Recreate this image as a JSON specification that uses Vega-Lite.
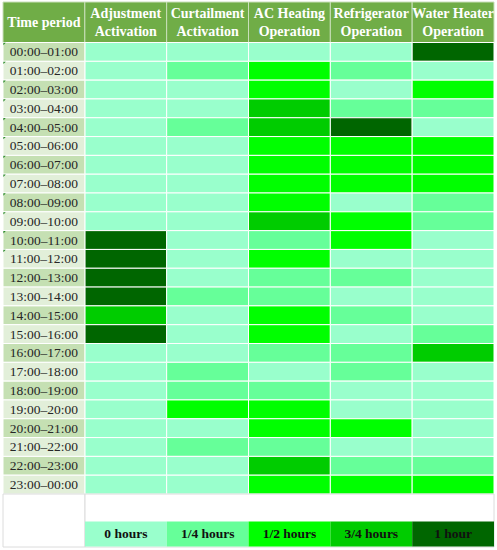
{
"$schema": "https://vega.github.io/schema/vega-lite/v6.json",
"width": 497, "height": 550, "autosize": {"type": "none"}, "padding": 0, "background": "white",
"config": {"view": {"stroke": null}, "axis": {"disable": true}, "text": {"font": "Liberation Serif"}},
"datasets": {
"cols": [
{"col": "Time period", "label": "Time period"},
{"col": "Adjustment Activation", "label": "Adjustment\nActivation"},
{"col": "Curtailment Activation", "label": "Curtailment\nActivation"},
{"col": "AC Heating Operation", "label": "AC Heating\nOperation"},
{"col": "Refrigerator Operation", "label": "Refrigerator\nOperation"},
{"col": "Water Heater Operation", "label": "Water Heater\nOperation"}
],
"times": [
{"time": "00:00–01:00"},{"time": "01:00–02:00"},{"time": "02:00–03:00"},{"time": "03:00–04:00"},{"time": "04:00–05:00"},{"time": "05:00–06:00"},{"time": "06:00–07:00"},{"time": "07:00–08:00"},{"time": "08:00–09:00"},{"time": "09:00–10:00"},{"time": "10:00–11:00"},{"time": "11:00–12:00"},{"time": "12:00–13:00"},{"time": "13:00–14:00"},{"time": "14:00–15:00"},{"time": "15:00–16:00"},{"time": "16:00–17:00"},{"time": "17:00–18:00"},{"time": "18:00–19:00"},{"time": "19:00–20:00"},{"time": "20:00–21:00"},{"time": "21:00–22:00"},{"time": "22:00–23:00"},{"time": "23:00–00:00"}
],
"flagged": [
{"time": "00:00–01:00"},{"time": "01:00–02:00"},{"time": "02:00–03:00"},{"time": "03:00–04:00"},{"time": "04:00–05:00"},{"time": "05:00–06:00"},{"time": "06:00–07:00"},{"time": "07:00–08:00"},{"time": "08:00–09:00"},{"time": "09:00–10:00"},{"time": "10:00–11:00"},{"time": "11:00–12:00"}
],
"legendItems": [
{"hours": "0 hours"},{"hours": "1/4 hours"},{"hours": "1/2 hours"},{"hours": "3/4 hours"},{"hours": "1 hour"}
],
"grid": [
{"time":"00:00–01:00","device":"Adjustment Activation","hours":"0 hours"},
{"time":"00:00–01:00","device":"Curtailment Activation","hours":"0 hours"},
{"time":"00:00–01:00","device":"AC Heating Operation","hours":"0 hours"},
{"time":"00:00–01:00","device":"Refrigerator Operation","hours":"0 hours"},
{"time":"00:00–01:00","device":"Water Heater Operation","hours":"1 hour"},
{"time":"01:00–02:00","device":"Adjustment Activation","hours":"0 hours"},
{"time":"01:00–02:00","device":"Curtailment Activation","hours":"1/4 hours"},
{"time":"01:00–02:00","device":"AC Heating Operation","hours":"1/2 hours"},
{"time":"01:00–02:00","device":"Refrigerator Operation","hours":"1/4 hours"},
{"time":"01:00–02:00","device":"Water Heater Operation","hours":"0 hours"},
{"time":"02:00–03:00","device":"Adjustment Activation","hours":"0 hours"},
{"time":"02:00–03:00","device":"Curtailment Activation","hours":"0 hours"},
{"time":"02:00–03:00","device":"AC Heating Operation","hours":"1/2 hours"},
{"time":"02:00–03:00","device":"Refrigerator Operation","hours":"0 hours"},
{"time":"02:00–03:00","device":"Water Heater Operation","hours":"1/2 hours"},
{"time":"03:00–04:00","device":"Adjustment Activation","hours":"0 hours"},
{"time":"03:00–04:00","device":"Curtailment Activation","hours":"0 hours"},
{"time":"03:00–04:00","device":"AC Heating Operation","hours":"3/4 hours"},
{"time":"03:00–04:00","device":"Refrigerator Operation","hours":"1/4 hours"},
{"time":"03:00–04:00","device":"Water Heater Operation","hours":"1/4 hours"},
{"time":"04:00–05:00","device":"Adjustment Activation","hours":"0 hours"},
{"time":"04:00–05:00","device":"Curtailment Activation","hours":"1/4 hours"},
{"time":"04:00–05:00","device":"AC Heating Operation","hours":"3/4 hours"},
{"time":"04:00–05:00","device":"Refrigerator Operation","hours":"1 hour"},
{"time":"04:00–05:00","device":"Water Heater Operation","hours":"0 hours"},
{"time":"05:00–06:00","device":"Adjustment Activation","hours":"0 hours"},
{"time":"05:00–06:00","device":"Curtailment Activation","hours":"0 hours"},
{"time":"05:00–06:00","device":"AC Heating Operation","hours":"1/2 hours"},
{"time":"05:00–06:00","device":"Refrigerator Operation","hours":"1/2 hours"},
{"time":"05:00–06:00","device":"Water Heater Operation","hours":"1/2 hours"},
{"time":"06:00–07:00","device":"Adjustment Activation","hours":"0 hours"},
{"time":"06:00–07:00","device":"Curtailment Activation","hours":"0 hours"},
{"time":"06:00–07:00","device":"AC Heating Operation","hours":"1/2 hours"},
{"time":"06:00–07:00","device":"Refrigerator Operation","hours":"1/2 hours"},
{"time":"06:00–07:00","device":"Water Heater Operation","hours":"1/2 hours"},
{"time":"07:00–08:00","device":"Adjustment Activation","hours":"0 hours"},
{"time":"07:00–08:00","device":"Curtailment Activation","hours":"0 hours"},
{"time":"07:00–08:00","device":"AC Heating Operation","hours":"1/2 hours"},
{"time":"07:00–08:00","device":"Refrigerator Operation","hours":"1/2 hours"},
{"time":"07:00–08:00","device":"Water Heater Operation","hours":"1/2 hours"},
{"time":"08:00–09:00","device":"Adjustment Activation","hours":"0 hours"},
{"time":"08:00–09:00","device":"Curtailment Activation","hours":"0 hours"},
{"time":"08:00–09:00","device":"AC Heating Operation","hours":"1/2 hours"},
{"time":"08:00–09:00","device":"Refrigerator Operation","hours":"0 hours"},
{"time":"08:00–09:00","device":"Water Heater Operation","hours":"1/4 hours"},
{"time":"09:00–10:00","device":"Adjustment Activation","hours":"0 hours"},
{"time":"09:00–10:00","device":"Curtailment Activation","hours":"0 hours"},
{"time":"09:00–10:00","device":"AC Heating Operation","hours":"3/4 hours"},
{"time":"09:00–10:00","device":"Refrigerator Operation","hours":"1/2 hours"},
{"time":"09:00–10:00","device":"Water Heater Operation","hours":"1/4 hours"},
{"time":"10:00–11:00","device":"Adjustment Activation","hours":"1 hour"},
{"time":"10:00–11:00","device":"Curtailment Activation","hours":"0 hours"},
{"time":"10:00–11:00","device":"AC Heating Operation","hours":"1/4 hours"},
{"time":"10:00–11:00","device":"Refrigerator Operation","hours":"1/2 hours"},
{"time":"10:00–11:00","device":"Water Heater Operation","hours":"0 hours"},
{"time":"11:00–12:00","device":"Adjustment Activation","hours":"1 hour"},
{"time":"11:00–12:00","device":"Curtailment Activation","hours":"0 hours"},
{"time":"11:00–12:00","device":"AC Heating Operation","hours":"1/2 hours"},
{"time":"11:00–12:00","device":"Refrigerator Operation","hours":"0 hours"},
{"time":"11:00–12:00","device":"Water Heater Operation","hours":"0 hours"},
{"time":"12:00–13:00","device":"Adjustment Activation","hours":"1 hour"},
{"time":"12:00–13:00","device":"Curtailment Activation","hours":"0 hours"},
{"time":"12:00–13:00","device":"AC Heating Operation","hours":"1/4 hours"},
{"time":"12:00–13:00","device":"Refrigerator Operation","hours":"1/4 hours"},
{"time":"12:00–13:00","device":"Water Heater Operation","hours":"0 hours"},
{"time":"13:00–14:00","device":"Adjustment Activation","hours":"1 hour"},
{"time":"13:00–14:00","device":"Curtailment Activation","hours":"1/4 hours"},
{"time":"13:00–14:00","device":"AC Heating Operation","hours":"1/4 hours"},
{"time":"13:00–14:00","device":"Refrigerator Operation","hours":"0 hours"},
{"time":"13:00–14:00","device":"Water Heater Operation","hours":"0 hours"},
{"time":"14:00–15:00","device":"Adjustment Activation","hours":"3/4 hours"},
{"time":"14:00–15:00","device":"Curtailment Activation","hours":"0 hours"},
{"time":"14:00–15:00","device":"AC Heating Operation","hours":"1/2 hours"},
{"time":"14:00–15:00","device":"Refrigerator Operation","hours":"1/4 hours"},
{"time":"14:00–15:00","device":"Water Heater Operation","hours":"0 hours"},
{"time":"15:00–16:00","device":"Adjustment Activation","hours":"1 hour"},
{"time":"15:00–16:00","device":"Curtailment Activation","hours":"0 hours"},
{"time":"15:00–16:00","device":"AC Heating Operation","hours":"1/2 hours"},
{"time":"15:00–16:00","device":"Refrigerator Operation","hours":"0 hours"},
{"time":"15:00–16:00","device":"Water Heater Operation","hours":"1/4 hours"},
{"time":"16:00–17:00","device":"Adjustment Activation","hours":"0 hours"},
{"time":"16:00–17:00","device":"Curtailment Activation","hours":"0 hours"},
{"time":"16:00–17:00","device":"AC Heating Operation","hours":"1/4 hours"},
{"time":"16:00–17:00","device":"Refrigerator Operation","hours":"1/4 hours"},
{"time":"16:00–17:00","device":"Water Heater Operation","hours":"3/4 hours"},
{"time":"17:00–18:00","device":"Adjustment Activation","hours":"0 hours"},
{"time":"17:00–18:00","device":"Curtailment Activation","hours":"1/4 hours"},
{"time":"17:00–18:00","device":"AC Heating Operation","hours":"0 hours"},
{"time":"17:00–18:00","device":"Refrigerator Operation","hours":"1/4 hours"},
{"time":"17:00–18:00","device":"Water Heater Operation","hours":"0 hours"},
{"time":"18:00–19:00","device":"Adjustment Activation","hours":"0 hours"},
{"time":"18:00–19:00","device":"Curtailment Activation","hours":"1/4 hours"},
{"time":"18:00–19:00","device":"AC Heating Operation","hours":"1/4 hours"},
{"time":"18:00–19:00","device":"Refrigerator Operation","hours":"0 hours"},
{"time":"18:00–19:00","device":"Water Heater Operation","hours":"0 hours"},
{"time":"19:00–20:00","device":"Adjustment Activation","hours":"0 hours"},
{"time":"19:00–20:00","device":"Curtailment Activation","hours":"1/2 hours"},
{"time":"19:00–20:00","device":"AC Heating Operation","hours":"1/2 hours"},
{"time":"19:00–20:00","device":"Refrigerator Operation","hours":"0 hours"},
{"time":"19:00–20:00","device":"Water Heater Operation","hours":"0 hours"},
{"time":"20:00–21:00","device":"Adjustment Activation","hours":"0 hours"},
{"time":"20:00–21:00","device":"Curtailment Activation","hours":"0 hours"},
{"time":"20:00–21:00","device":"AC Heating Operation","hours":"1/2 hours"},
{"time":"20:00–21:00","device":"Refrigerator Operation","hours":"1/2 hours"},
{"time":"20:00–21:00","device":"Water Heater Operation","hours":"0 hours"},
{"time":"21:00–22:00","device":"Adjustment Activation","hours":"0 hours"},
{"time":"21:00–22:00","device":"Curtailment Activation","hours":"1/4 hours"},
{"time":"21:00–22:00","device":"AC Heating Operation","hours":"1/4 hours"},
{"time":"21:00–22:00","device":"Refrigerator Operation","hours":"0 hours"},
{"time":"21:00–22:00","device":"Water Heater Operation","hours":"0 hours"},
{"time":"22:00–23:00","device":"Adjustment Activation","hours":"0 hours"},
{"time":"22:00–23:00","device":"Curtailment Activation","hours":"0 hours"},
{"time":"22:00–23:00","device":"AC Heating Operation","hours":"3/4 hours"},
{"time":"22:00–23:00","device":"Refrigerator Operation","hours":"1/4 hours"},
{"time":"22:00–23:00","device":"Water Heater Operation","hours":"1/4 hours"},
{"time":"23:00–00:00","device":"Adjustment Activation","hours":"0 hours"},
{"time":"23:00–00:00","device":"Curtailment Activation","hours":"0 hours"},
{"time":"23:00–00:00","device":"AC Heating Operation","hours":"1/2 hours"},
{"time":"23:00–00:00","device":"Refrigerator Operation","hours":"1/2 hours"},
{"time":"23:00–00:00","device":"Water Heater Operation","hours":"1/2 hours"}
]
},
"resolve": {"scale": {"x": "independent", "y": "independent", "color": "independent"}},
"layer": [
{
"data": {"name": "cols"},
"layer": [
{"mark": {"type": "rect", "fill": "#70ad47", "stroke": "#c9dfba", "strokeWidth": 1},
 "encoding": {
  "x": {"field": "col", "type": "nominal", "scale": {"domain": ["Time period","Adjustment Activation","Curtailment Activation","AC Heating Operation","Refrigerator Operation","Water Heater Operation"], "range": [3, 494], "paddingInner": 0, "paddingOuter": 0}},
  "y": {"datum": "header", "type": "nominal", "scale": {"domain": ["header"], "range": [2, 42.5], "paddingInner": 0, "paddingOuter": 0}}
 }},
{"transform": [{"filter": "datum.col !== 'Time period'"}],
 "mark": {"type": "text", "color": "white", "fontWeight": "bold", "fontSize": 14, "lineBreak": "\n", "lineHeight": 18, "baseline": "middle", "align": "center", "dy": -8.5},
 "encoding": {
  "x": {"field": "col", "type": "nominal"},
  "y": {"datum": "header", "type": "nominal"},
  "text": {"field": "label"}
 }},
{"transform": [{"filter": "datum.col === 'Time period'"}],
 "mark": {"type": "text", "color": "white", "fontWeight": "bold", "fontSize": 14, "baseline": "middle", "align": "center", "dy": 1},
 "encoding": {
  "x": {"field": "col", "type": "nominal"},
  "y": {"datum": "header", "type": "nominal"},
  "text": {"field": "label"}
 }}
]
},
{
"data": {"name": "grid"},
"mark": {"type": "rect", "stroke": "white", "strokeWidth": 1},
"encoding": {
 "x": {"field": "device", "type": "nominal", "scale": {"domain": ["Time period","Adjustment Activation","Curtailment Activation","AC Heating Operation","Refrigerator Operation","Water Heater Operation"], "range": [3, 494], "paddingInner": 0, "paddingOuter": 0}},
 "y": {"field": "time", "type": "nominal", "scale": {"domain": ["00:00–01:00","01:00–02:00","02:00–03:00","03:00–04:00","04:00–05:00","05:00–06:00","06:00–07:00","07:00–08:00","08:00–09:00","09:00–10:00","10:00–11:00","11:00–12:00","12:00–13:00","13:00–14:00","14:00–15:00","15:00–16:00","16:00–17:00","17:00–18:00","18:00–19:00","19:00–20:00","20:00–21:00","21:00–22:00","22:00–23:00","23:00–00:00"], "range": [42.5, 494], "paddingInner": 0, "paddingOuter": 0}},
 "color": {"field": "hours", "type": "nominal", "scale": {"domain": ["0 hours","1/4 hours","1/2 hours","3/4 hours","1 hour"], "range": ["#99ffcc","#66ff99","#00ff00","#00cc00","#006600"]}, "legend": null}
}
},
{
"data": {"name": "times"},
"layer": [
{"mark": {"type": "rect", "stroke": "white", "strokeWidth": 1},
 "encoding": {
  "x": {"datum": "Time period", "type": "nominal", "scale": {"domain": ["Time period","Adjustment Activation","Curtailment Activation","AC Heating Operation","Refrigerator Operation","Water Heater Operation"], "range": [3, 494], "paddingInner": 0, "paddingOuter": 0}},
  "y": {"field": "time", "type": "nominal", "scale": {"domain": ["00:00–01:00","01:00–02:00","02:00–03:00","03:00–04:00","04:00–05:00","05:00–06:00","06:00–07:00","07:00–08:00","08:00–09:00","09:00–10:00","10:00–11:00","11:00–12:00","12:00–13:00","13:00–14:00","14:00–15:00","15:00–16:00","16:00–17:00","17:00–18:00","18:00–19:00","19:00–20:00","20:00–21:00","21:00–22:00","22:00–23:00","23:00–00:00"], "range": [42.5, 494], "paddingInner": 0, "paddingOuter": 0}},
  "color": {"field": "time", "type": "nominal", "scale": {"range": ["#c5e0b3","#e2efd9"]}, "legend": null}
 }},
{"mark": {"type": "text", "color": "#262626", "fontSize": 13.5, "baseline": "middle", "align": "center", "dy": 0.5},
 "encoding": {
  "x": {"datum": "Time period", "type": "nominal"},
  "y": {"field": "time", "type": "nominal"},
  "text": {"field": "time"}
 }},
{"data": {"name": "flagged"},
 "mark": {"type": "point", "shape": "M0.2,0.2L1.6,0.2L0.2,1.6Z", "filled": true, "color": "#2a8a2a", "size": 12, "opacity": 1},
 "encoding": {
  "x": {"datum": "Time period", "type": "nominal", "bandPosition": 0},
  "y": {"field": "time", "type": "nominal", "bandPosition": 0}
 }}
]
},
{
"data": {"values": [{}]},
"mark": {"type": "rect", "fill": "white", "stroke": "#dcdcdc", "strokeWidth": 1},
"encoding": {
 "x": {"datum": "left", "type": "nominal", "scale": {"domain": ["left"], "range": [3, 85], "paddingInner": 0, "paddingOuter": 0}},
 "y": {"datum": "blank", "type": "nominal", "scale": {"domain": ["blank"], "range": [494, 547], "paddingInner": 0, "paddingOuter": 0}}
}
},
{
"data": {"values": [{}]},
"mark": {"type": "rect", "fill": "white", "stroke": "#dcdcdc", "strokeWidth": 1},
"encoding": {
 "x": {"datum": "right", "type": "nominal", "scale": {"domain": ["right"], "range": [85, 494], "paddingInner": 0, "paddingOuter": 0}},
 "y": {"datum": "blank", "type": "nominal", "scale": {"domain": ["blank"], "range": [494, 547], "paddingInner": 0, "paddingOuter": 0}}
}
},
{
"data": {"name": "legendItems"},
"layer": [
{"mark": {"type": "rect"},
 "encoding": {
  "x": {"field": "hours", "type": "nominal", "scale": {"domain": ["0 hours","1/4 hours","1/2 hours","3/4 hours","1 hour"], "range": [85, 494], "paddingInner": 0, "paddingOuter": 0}},
  "y": {"datum": "legend", "type": "nominal", "scale": {"domain": ["legend"], "range": [521.5, 546.5], "paddingInner": 0, "paddingOuter": 0}},
  "color": {"field": "hours", "type": "nominal", "scale": {"domain": ["0 hours","1/4 hours","1/2 hours","3/4 hours","1 hour"], "range": ["#99ffcc","#66ff99","#00ff00","#00cc00","#006600"]}, "legend": null}
 }},
{"mark": {"type": "text", "color": "#111111", "fontWeight": "bold", "fontSize": 13.5, "baseline": "middle", "align": "center"},
 "encoding": {
  "x": {"field": "hours", "type": "nominal"},
  "y": {"datum": "legend", "type": "nominal"},
  "text": {"field": "hours"}
 }}
]
}
]
}
